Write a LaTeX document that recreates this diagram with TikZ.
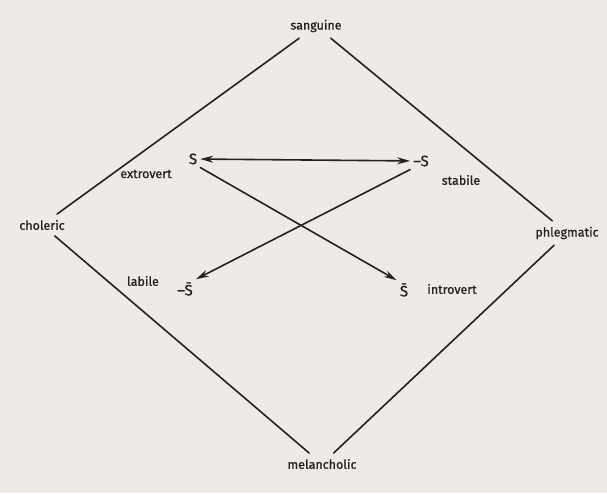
\documentclass[tikz,border=0pt]{standalone}
\usepackage{fontspec}
\setmainfont{Fira Sans}[FakeBold=0.8]
\usetikzlibrary{arrows.meta}
\definecolor{paper}{RGB}{238,234,229}
\definecolor{ink}{RGB}{35,33,33}
\tikzset{
  temper/.style={font=\fontsize{12.5}{15}\selectfont, text=ink, inner sep=2pt, outer sep=4pt},
  pole/.style={font=\fontsize{15}{17}\selectfont, text=ink, inner sep=3pt},
  axis/.style={ink, line width=1.6pt},
  arr/.style={ink, line width=1.6pt, -{Stealth[length=13pt,width=7pt]}}
}
\begin{document}
\begin{tikzpicture}[x=1pt, y=-1pt, line join=round, line cap=round]
				\fill[paper] (0,0) rectangle (607,493);
				\useasboundingbox (0,0) rectangle (607,493);
				
				% The four temperaments
				\node[temper] (sanguine) at (316,26) {sanguine};
				\node[temper] (choleric) at (42,225) {choleric};
				\node[temper] (phlegmatic) at (567,233) {phlegmatic};
				\node[temper] (melancholic) at (322,464) {melancholic};
				
				% The outer diamond
				\draw[axis] (sanguine) -- (choleric);
				\draw[axis] (sanguine) -- (phlegmatic);
				\draw[axis] (choleric) -- (melancholic);
				\draw[axis] (phlegmatic) -- (melancholic);
				
				% The four poles inside
				\node[pole] (S) at (193,159) {S};
				\node[pole] (negS) at (421,161) {--S};
				\node[pole] (negbarS) at (185,289) {--\=S};
				\node[pole] (barS) at (404,290) {\=S};
				
				% Names of the poles
				\node[temper] (extrovert) at (146,174) {extrovert};
				\node[temper] (stabile) at (461,180) {stabile};
				\node[temper] (labile) at (143,281) {labile};
				\node[temper] (introvert) at (452,289) {introvert};
				
				% Arrows between the poles
				\draw[arr, {Stealth[length=13pt,width=7pt]}-{Stealth[length=13pt,width=7pt]}] (S) -- (negS);
				\draw[arr] (S.south east) -- (barS.north west);
				\draw[arr] (negS.south west) -- (negbarS.north east);
\end{tikzpicture}
\end{document}
